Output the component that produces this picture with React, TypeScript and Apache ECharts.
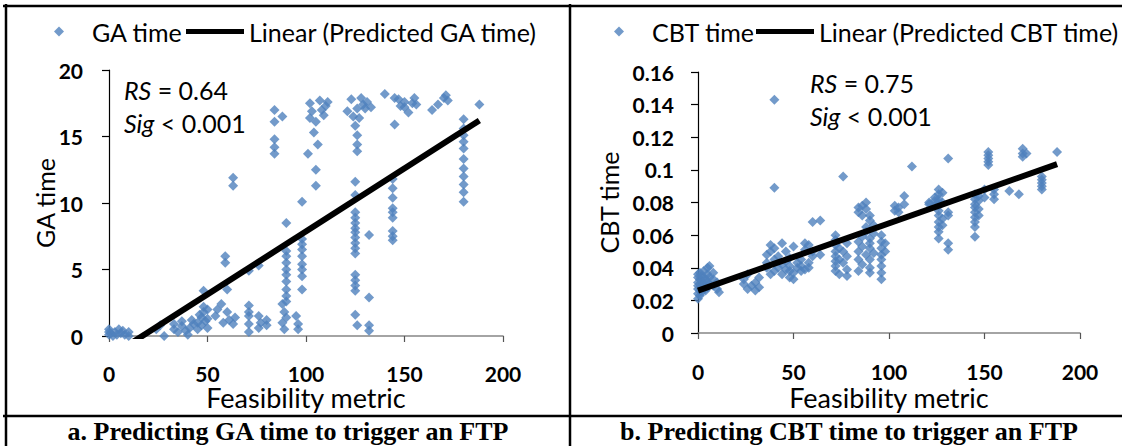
import React, { useEffect, useRef } from "react";
import * as echarts from "echarts";

// ---------- data ----------
const xMin = 0;
const xMax = 200;
const xStep = 50;
const gaMax = 20;
const gaStep = 5;
const cbtMax = 0.16;
const cbtStep = 0.02;

const gaName = "GA time";
const gaTrendName = "Linear (Predicted GA time)";
const cbtName = "CBT time";
const cbtTrendName = "Linear (Predicted CBT time)";
const xName = "Feasibility metric";
const captionA = "a. Predicting GA time to trigger an FTP";
const captionB = "b. Predicting CBT time to trigger an FTP";
const gaStats = ["RS", " = 0.64", "Sig", " < 0.001"];
const cbtStats = ["RS", " = 0.75", "Sig", " < 0.001"];

const gaTime: [number, number][] = [
  [0, 0.1], [0, 0.3], [0, 0.5], [1, 0.2], [2, 0.0], [3, 0.3], [4, 0.1], [5, 0.5], [6, 0.2], [7, 0.4], [8, 0.1], [10, 0.0], [10, 0.3],
  [24, 0.5], [26, 0.8], [28, 0.0],
  [33, 0.5], [33, 0.9], [35, 0.3], [37, 0.75], [37, 1.1], [39, 0.4], [40, 0.1], [41, 0.6], [42, 1.2], [43, 0.9], [45, 1.0], [45, 0.5],
  [46, 1.6], [47, 1.4], [47, 0.8], [48, 1.8], [48, 2.2], [48, 3.4], [49, 1.1], [50, 0.6], [50, 1.3], [50, 2.0],
  [54, 1.5], [55, 2.0], [57, 2.4], [58, 1.0], [59, 6.0], [59, 5.5], [60, 3.5], [60, 1.8], [61, 1.2], [63, 11.9], [63, 11.3], [63, 0.9], [64, 1.4],
  [71, 4.9], [71, 2.3], [71, 1.8], [71, 1.5], [71, 0.9], [71, 0.3], [76, 5.3], [76, 1.5], [76, 0.6], [77, 1.0], [80, 1.2], [80, 0.8],
  [84, 17.0], [84, 16.1], [84, 14.8], [84, 14.2], [84, 13.7], [88, 16.5],
  [88, 2.4], [88, 1.0], [89, 1.8], [89, 0.5],
  [90, 8.5], [90, 6.4], [90, 6.0], [90, 5.5], [90, 5.0], [90, 4.6], [90, 4.1], [90, 3.5], [90, 3.0], [90, 2.6], [90, 1.4],
  [95, 1.5], [96, 0.9], [96, 0.5],
  [98, 10.1], [98, 7.3], [98, 6.9], [98, 6.5], [98, 6.0], [98, 5.4], [98, 5.0], [98, 4.5], [98, 3.5],
  [101, 13.7], [102, 17.5], [102, 16.4], [103, 16.9], [104, 15.3], [105, 12.5], [105, 11.3], [105, 16.1], [106, 14.4], [107, 17.7],
  [108, 17.0], [109, 16.6], [111, 17.6], [110, 17.3],
  [121, 16.9], [123, 17.8], [124, 16.5], [125, 15.8], [125, 11.6], [125, 10.6], [125, 9.3], [125, 8.9], [125, 8.5], [125, 8.1],
  [125, 7.8], [125, 7.4], [125, 7.0], [125, 6.6], [125, 6.2], [125, 4.6], [125, 4.2], [125, 3.8], [125, 3.4], [125, 1.6],
  [126, 17.1], [126, 15.1], [126, 14.4], [126, 13.9], [126, 0.8], [127, 16.4], [128, 17.9], [129, 17.4], [130, 17.1], [131, 17.6], [133, 17.2],
  [132, 7.6], [132, 2.9], [132, 0.8], [132, 0.4],
  [140, 18.2],
  [144, 11.8], [144, 11.1], [144, 10.4], [144, 9.6], [144, 9.3], [144, 8.9], [144, 7.9], [144, 7.5], [144, 7.2],
  [145, 17.9], [145, 15.9], [147, 17.8], [148, 17.3], [150, 17.6], [150, 17.2], [152, 16.8], [154, 17.5], [155, 17.9], [156, 17.4],
  [164, 17.0], [167, 17.4], [170, 17.9], [172, 17.7], [171, 18.1],
  [180, 16.3], [180, 15.6], [180, 15.1], [180, 14.6], [180, 14.1], [180, 13.3], [180, 12.6], [180, 12.0], [180, 11.4], [180, 10.8], [180, 10.1],
  [188, 17.4],
];
const gaTrend: [number, number][] = [[0, -1.6], [188, 16.2]];

const cbtTime: [number, number][] = [
  [0, 0.021], [0, 0.024], [0, 0.027], [0, 0.029], [0, 0.031], [0, 0.034], [0, 0.036],
  [1, 0.023], [1, 0.026], [1, 0.03], [1, 0.033], [1, 0.037],
  [2, 0.025], [2, 0.028], [2, 0.032], [2, 0.035],
  [3, 0.027], [3, 0.03], [3, 0.034], [3, 0.038],
  [4, 0.026], [4, 0.029], [4, 0.033],
  [5, 0.028], [5, 0.031], [5, 0.036], [5, 0.04],
  [6, 0.03], [6, 0.034], [6, 0.041],
  [8, 0.029], [8, 0.033], [8, 0.037],
  [10, 0.027], [10, 0.031], [11, 0.025],
  [24, 0.03], [24, 0.033], [26, 0.027], [26, 0.036], [28, 0.029], [30, 0.026], [30, 0.031], [32, 0.028], [32, 0.034],
  [36, 0.04], [36, 0.043], [36, 0.048], [38, 0.036], [38, 0.054], [38, 0.05],
  [40, 0.089], [40, 0.143], [40, 0.038], [40, 0.045], [40, 0.052],
  [42, 0.04], [42, 0.047], [44, 0.036], [44, 0.042], [44, 0.055], [46, 0.039], [46, 0.044], [46, 0.05],
  [48, 0.034], [48, 0.038], [48, 0.041], [48, 0.046], [50, 0.033], [50, 0.037], [50, 0.053],
  [52, 0.04], [52, 0.043], [54, 0.038], [54, 0.041], [54, 0.045], [56, 0.039], [56, 0.051], [56, 0.055],
  [58, 0.04], [58, 0.043], [58, 0.054], [60, 0.068], [60, 0.047], [60, 0.05], [64, 0.069], [64, 0.048],
  [72, 0.06], [72, 0.057], [72, 0.054], [72, 0.05], [72, 0.047], [72, 0.044], [72, 0.041], [72, 0.038],
  [74, 0.036], [74, 0.045], [74, 0.052], [76, 0.096], [76, 0.043], [76, 0.05], [78, 0.035], [78, 0.039], [78, 0.047], [78, 0.055],
  [84, 0.074], [84, 0.077], [84, 0.056], [84, 0.05], [84, 0.045], [84, 0.038],
  [86, 0.078], [86, 0.072], [86, 0.059], [86, 0.053], [86, 0.042],
  [88, 0.08], [88, 0.076], [88, 0.065], [88, 0.062], [88, 0.048],
  [90, 0.072], [90, 0.069], [90, 0.058], [90, 0.055], [90, 0.052], [90, 0.045], [90, 0.04], [90, 0.037],
  [92, 0.066], [92, 0.061], [92, 0.049],
  [96, 0.06], [96, 0.056], [96, 0.052], [96, 0.048], [96, 0.045], [96, 0.041], [96, 0.037], [96, 0.033],
  [98, 0.055], [98, 0.05],
  [103, 0.078], [103, 0.075], [105, 0.077], [105, 0.074], [108, 0.084], [108, 0.079], [112, 0.102],
  [121, 0.08], [121, 0.079], [124, 0.083], [124, 0.081], [124, 0.078],
  [126, 0.088], [126, 0.085], [126, 0.082], [126, 0.08], [126, 0.078], [126, 0.075], [126, 0.072], [126, 0.068], [126, 0.065], [126, 0.062], [126, 0.058],
  [128, 0.086], [128, 0.08], [128, 0.07], [128, 0.066],
  [131, 0.107], [131, 0.074], [131, 0.072], [131, 0.055], [131, 0.051],
  [145, 0.085], [145, 0.082], [145, 0.079], [145, 0.077], [145, 0.074], [145, 0.071], [145, 0.068], [145, 0.065], [145, 0.059],
  [147, 0.084], [147, 0.081], [147, 0.076], [147, 0.072], [150, 0.083], [150, 0.088],
  [152, 0.111], [152, 0.109], [152, 0.107], [152, 0.105], [152, 0.103],
  [155, 0.088], [155, 0.085], [155, 0.082], [163, 0.087], [168, 0.085],
  [170, 0.113], [170, 0.11], [170, 0.108], [172, 0.11],
  [180, 0.096], [180, 0.094], [180, 0.092], [180, 0.09], [180, 0.088],
  [188, 0.111],
];
const cbtTrend: [number, number][] = [[0, 0.026], [188, 0.1035]];

// ---------- styles ----------
const BLUE = "#4F81BD";
const SANS = "Lato";

export default function App() {
  const ref = useRef<HTMLDivElement>(null);

  useEffect(() => {
    if (!ref.current) return;
    const chart = echarts.init(ref.current, null, { renderer: "svg" });

    const tickLabel = { fontFamily: SANS, fontSize: 21, fontWeight: "bold" as const, color: "#000" };
    const yNameStyle = { fontFamily: SANS, fontSize: 25, color: "#000" };
    const xNameStyle = { fontFamily: SANS, fontSize: 27, color: "#000" };

    const xAxisCfg = (gridIndex: number, nameGap: number, margin: number) => ({
      gridIndex,
      type: "value",
      min: xMin,
      max: xMax,
      interval: xStep,
      name: xName,
      nameLocation: "middle",
      nameGap,
      nameMoveOverlap: false,
      nameTextStyle: xNameStyle,
      axisLine: { show: true, onZero: false, lineStyle: { color: "#868686", width: 1.5 } },
      axisTick: { show: true, length: 6, lineStyle: { color: "#555", width: 1.2 } },
      splitLine: { show: false },
      axisLabel: { ...tickLabel, margin },
    });

    const yAxisCfg = (gridIndex: number, max: number, interval: number, name: string, nameGap: number, margin: number) => ({
      gridIndex,
      type: "value",
      min: 0,
      max,
      interval,
      name,
      nameLocation: "middle",
      nameGap,
      nameMoveOverlap: false,
      nameTextStyle: yNameStyle,
      axisLine: { show: true, onZero: false, lineStyle: { color: "#000", width: 1.2 } },
      axisTick: { show: true, length: 7, lineStyle: { color: "#000", width: 1.2 } },
      splitLine: { show: false },
      axisLabel: { ...tickLabel, margin },
    });

    const legendText = { fontFamily: SANS, fontSize: 25, color: "#000" };
    // scatter legend: small diamond, text pushed right by an empty rich box
    const pointLegend = (name: string, left: number) => ({
      data: [{ name, icon: "diamond" }],
      left,
      top: 19,
      padding: 0,
      itemWidth: 10,
      itemHeight: 10,
      selectedMode: false,
      formatter: "{gap|}{n|{name}}",
      textStyle: {
        ...legendText,
        rich: {
          gap: { width: 23 },
          n: { ...legendText },
        },
      },
    });
    const lineLegend = (name: string, left: number, itemWidth: number) => ({
      data: [{ name, icon: "rect" }],
      left,
      top: 19,
      padding: 0,
      itemWidth,
      itemHeight: 5,
      selectedMode: false,
      textStyle: legendText,
    });

    const statText = (x: number, y: number, parts: string[]) => ({
      type: "text",
      x,
      y,
      style: {
        text: `{i|${parts[0]}}${parts[1]}`,
        rich: { i: { fontStyle: "italic", fontFamily: SANS, fontSize: 25, fill: "#000" } },
        fontFamily: SANS,
        fontSize: 25,
        fill: "#000",
        verticalAlign: "middle",
      },
    });

    const border = (x1: number, y1: number, x2: number, y2: number) => ({
      type: "line",
      shape: { x1, y1, x2, y2 },
      style: { stroke: "#000", lineWidth: 2.5 },
      silent: true,
    });

    const caption = (x: number, text: string) => ({
      type: "text",
      x,
      y: 431,
      style: {
        text,
        fontFamily: "Liberation Serif",
        fontWeight: "bold",
        fontSize: 26,
        fill: "#000",
        align: "center",
        verticalAlign: "middle",
      },
    });

    chart.setOption({
      animation: false,
      backgroundColor: "#fff",
      grid: [
        { left: 109, top: 70, width: 394, height: 266 },
        { left: 698, top: 72, width: 382, height: 261 },
      ],
      xAxis: [xAxisCfg(0, 48, 27), xAxisCfg(1, 51, 28)],
      yAxis: [
        yAxisCfg(0, gaMax, gaStep, gaName, 52, 26),
        yAxisCfg(1, cbtMax, cbtStep, cbtName, 77, 24),
      ],
      legend: [
        pointLegend(gaName, 54),
        lineLegend(gaTrendName, 186, 58),
        pointLegend(cbtName, 614),
        lineLegend(cbtTrendName, 756, 58),
      ],
      series: [
        {
          name: gaName,
          type: "scatter",
          xAxisIndex: 0,
          yAxisIndex: 0,
          symbol: "diamond",
          symbolSize: 10,
          itemStyle: { color: BLUE },
          data: gaTime,
        },
        {
          name: gaTrendName,
          type: "line",
          xAxisIndex: 0,
          yAxisIndex: 0,
          symbol: "none",
          clip: true,
          lineStyle: { color: "#000", width: 6 },
          itemStyle: { color: "#000" },
          data: gaTrend,
        },
        {
          name: cbtName,
          type: "scatter",
          xAxisIndex: 1,
          yAxisIndex: 1,
          symbol: "diamond",
          symbolSize: 10,
          itemStyle: { color: BLUE },
          data: cbtTime,
        },
        {
          name: cbtTrendName,
          type: "line",
          xAxisIndex: 1,
          yAxisIndex: 1,
          symbol: "none",
          clip: true,
          lineStyle: { color: "#000", width: 6 },
          itemStyle: { color: "#000" },
          data: cbtTrend,
        },
      ],
      graphic: [
        border(3, 6, 1122, 6),
        border(6, 4, 6, 446),
        border(570, 4, 570, 446),
        border(3, 416, 1122, 416),
        statText(124, 90, gaStats.slice(0, 2)),
        statText(124, 123, gaStats.slice(2, 4)),
        statText(810, 83, cbtStats.slice(0, 2)),
        statText(810, 116, cbtStats.slice(2, 4)),
        caption(288, captionA),
        caption(849, captionB),
      ],
    });

    return () => chart.dispose();
  }, []);

  return (
    <div
      ref={ref}
      style={{ position: "fixed", left: 0, top: 0, width: 1122, height: 446, background: "#fff" }}
    />
  );
}
